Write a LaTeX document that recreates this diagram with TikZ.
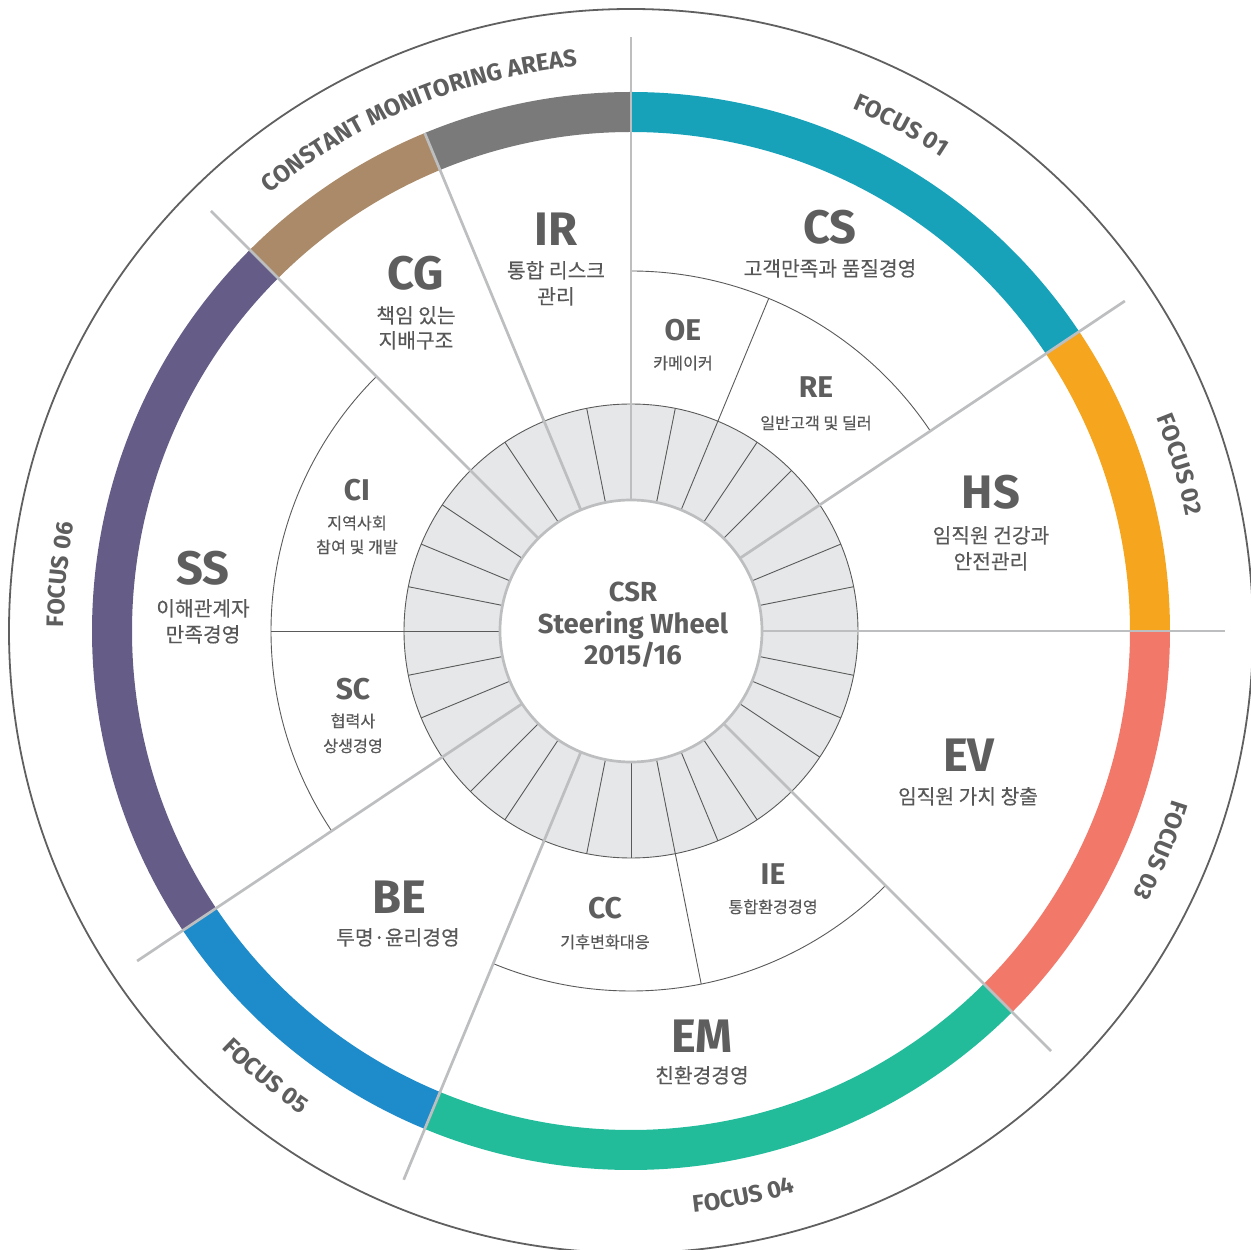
\documentclass[tikz,border=0pt]{standalone}
\usepackage{fontspec}
\setmainfont{Fira Sans}
\newfontfamily\kr[FakeBold=0.35]{Noto Sans CJK KR}
\usetikzlibrary{decorations.text}
\definecolor{txt}{HTML}{5E5E5F}
\definecolor{krtxt}{HTML}{585858}
\definecolor{majorc}{HTML}{BDBEC0}
\definecolor{minorc}{HTML}{5A5A5A}
\definecolor{hubc}{HTML}{E6E7E8}
\definecolor{outerc}{HTML}{606060}
\definecolor{cgray}{HTML}{7A7A7A}
\definecolor{cbrown}{HTML}{AA8A68}
\definecolor{cpurple}{HTML}{655D87}
\definecolor{cblue}{HTML}{1E8BCA}
\definecolor{cgreen}{HTML}{23BC9B}
\definecolor{csalmon}{HTML}{F2796A}
\definecolor{corange}{HTML}{F6A51F}
\definecolor{ccyan}{HTML}{17A2BA}
\newcommand\curvefont{\fontsize{24}{24}\selectfont\bfseries\color{txt}}
\newcommand\ringseg[3]{\fill[#3] (#1:499pt) arc[start angle=#1, end angle=#2, radius=499pt] -- (#2:539pt) arc[start angle=#2, end angle=#1, radius=539pt] -- cycle;}
\newcommand\arctext[4]{\path[decorate, decoration={text along path, text align=center, text={|\curvefont|#4}}] (#1:#3) arc[start angle=#1, end angle=#2, radius=#3];}
\tikzset{
  majorline/.style={draw=majorc, line width=2.7pt},
  minorline/.style={draw=minorc, line width=0.9pt},
  biglbl/.style={font=\fontsize{47}{47}\selectfont\bfseries, text=txt, anchor=base, inner sep=0pt},
  midlbl/.style={font=\fontsize{30}{30}\selectfont\bfseries, text=txt, anchor=base, inner sep=0pt},
  ctrlbl/.style={font=\fontsize{27.5}{27.5}\selectfont\bfseries, text=txt, anchor=base, inner sep=0pt},
  sublbl/.style={font=\kr\fontsize{20.3}{20.3}\selectfont, text=krtxt, anchor=base, inner sep=0pt},
  smalllbl/.style={font=\kr\fontsize{16.2}{16.2}\selectfont, text=krtxt, anchor=base, inner sep=0pt},
}
\begin{document}
\begin{tikzpicture}[x=1pt, y=1pt]
\useasboundingbox (-631,-619) rectangle (620,631);
% outer circle
\draw[draw=outerc, line width=1.8pt] (0,0) circle[radius=622pt];
% coloured ring
\ringseg{90}{112.5}{cgray}
\ringseg{112.5}{135}{cbrown}
\ringseg{135}{213.75}{cpurple}
\ringseg{213.75}{247.5}{cblue}
\ringseg{247.5}{315}{cgreen}
\ringseg{315}{360}{csalmon}
\ringseg{0}{33.75}{corange}
\ringseg{33.75}{90}{ccyan}
% hub
\fill[hubc] (0,0) circle[radius=227pt];
\foreach \i in {0,...,31} \draw[minorline] ({\i*11.25}:131pt) -- ({\i*11.25}:227pt);
\draw[minorline] (0,0) circle[radius=227pt];
% middle ring arcs and thin dividers
\draw[minorline] (33.75:360pt) arc[start angle=33.75, end angle=90, radius=360pt];
\draw[minorline] (135:360pt) arc[start angle=135, end angle=213.75, radius=360pt];
\draw[minorline] (247.5:360pt) arc[start angle=247.5, end angle=315, radius=360pt];
\draw[minorline] (67.5:227pt) -- (67.5:360pt);
\draw[minorline] (180:227pt) -- (180:360pt);
\draw[minorline] (281.25:227pt) -- (281.25:360pt);
% major dividers
\foreach \a in {90,33.75,0,315,247.5,213.75,135} \draw[majorline] (\a:131pt) -- (\a:594pt);
\draw[majorline] (112.5:131pt) -- (112.5:539pt);
% inner circle
\draw[draw=majorc, line width=2.7pt, fill=white] (0,0) circle[radius=131pt];
% centre text
\node[ctrlbl] (csr1) at (2,29) {CSR};
\node[ctrlbl] (csr2) at (2,-3) {Steering Wheel};
\node[ctrlbl] (csr3) at (2,-34) {2015/16};
% big labels
\node[biglbl] (cs) at (199,387) {CS};
\node[sublbl] (cs-s) at (199,355) {고객만족과 품질경영};
\node[biglbl] (ir) at (-75,385) {IR};
\node[sublbl] (ir-s1) at (-75,353) {통합 리스크};
\node[sublbl] (ir-s2) at (-75,327) {관리};
\node[biglbl] (cg) at (-215,341) {CG};
\node[sublbl] (cg-s1) at (-215,308) {책임 있는};
\node[sublbl] (cg-s2) at (-215,283) {지배구조};
\node[biglbl] (hs) at (360,122) {HS};
\node[sublbl] (hs-s1) at (360,88) {임직원 건강과};
\node[sublbl] (hs-s2) at (360,62) {안전관리};
\node[biglbl] (ev) at (338,-141) {EV};
\node[sublbl] (ev-s) at (337,-173) {임직원 가치 창출};
\node[biglbl] (em) at (71,-421) {EM};
\node[sublbl] (em-s) at (71,-452) {친환경경영};
\node[biglbl] (be) at (-232,-282) {BE};
\node[sublbl] (be-s) at (-233,-314) {투명·윤리경영};
\node[biglbl] (ss) at (-428,46) {SS};
\node[sublbl] (ss-s1) at (-428,15) {이해관계자};
\node[sublbl] (ss-s2) at (-428,-11) {만족경영};
% mid labels
\node[midlbl] (oe) at (52,290) {OE};
\node[smalllbl] (oe-s) at (52,262) {카메이커};
\node[midlbl] (re) at (185,233) {RE};
\node[smalllbl] (re-s) at (185,202) {일반고객 및 딜러};
\node[midlbl] (ci) at (-274,130) {CI};
\node[smalllbl] (ci-s1) at (-274,102) {지역사회};
\node[smalllbl] (ci-s2) at (-274,78) {참여 및 개발};
\node[midlbl] (sc) at (-278,-69) {SC};
\node[smalllbl] (sc-s1) at (-278,-96) {협력사};
\node[smalllbl] (sc-s2) at (-278,-121) {상생경영};
\node[midlbl] (cc) at (-26,-287) {CC};
\node[smalllbl] (cc-s) at (-26,-317) {기후변화대응};
\node[midlbl] (ie) at (142,-253) {IE};
\node[smalllbl] (ie-s) at (142,-282) {통합환경경영};
% curved labels
\arctext{135}{90}{567pt}{CONSTANT MONITORING AREAS}
\arctext{90}{33.75}{567pt}{FOCUS 01}
\arctext{33.75}{0}{567pt}{FOCUS 02}
\arctext{0}{-45}{567pt}{FOCUS 03}
\arctext{247.5}{315}{585pt}{FOCUS 04}
\arctext{213.75}{247.5}{585pt}{FOCUS 05}
\arctext{213.75}{135}{567pt}{FOCUS 06}
\end{tikzpicture}
\end{document}
